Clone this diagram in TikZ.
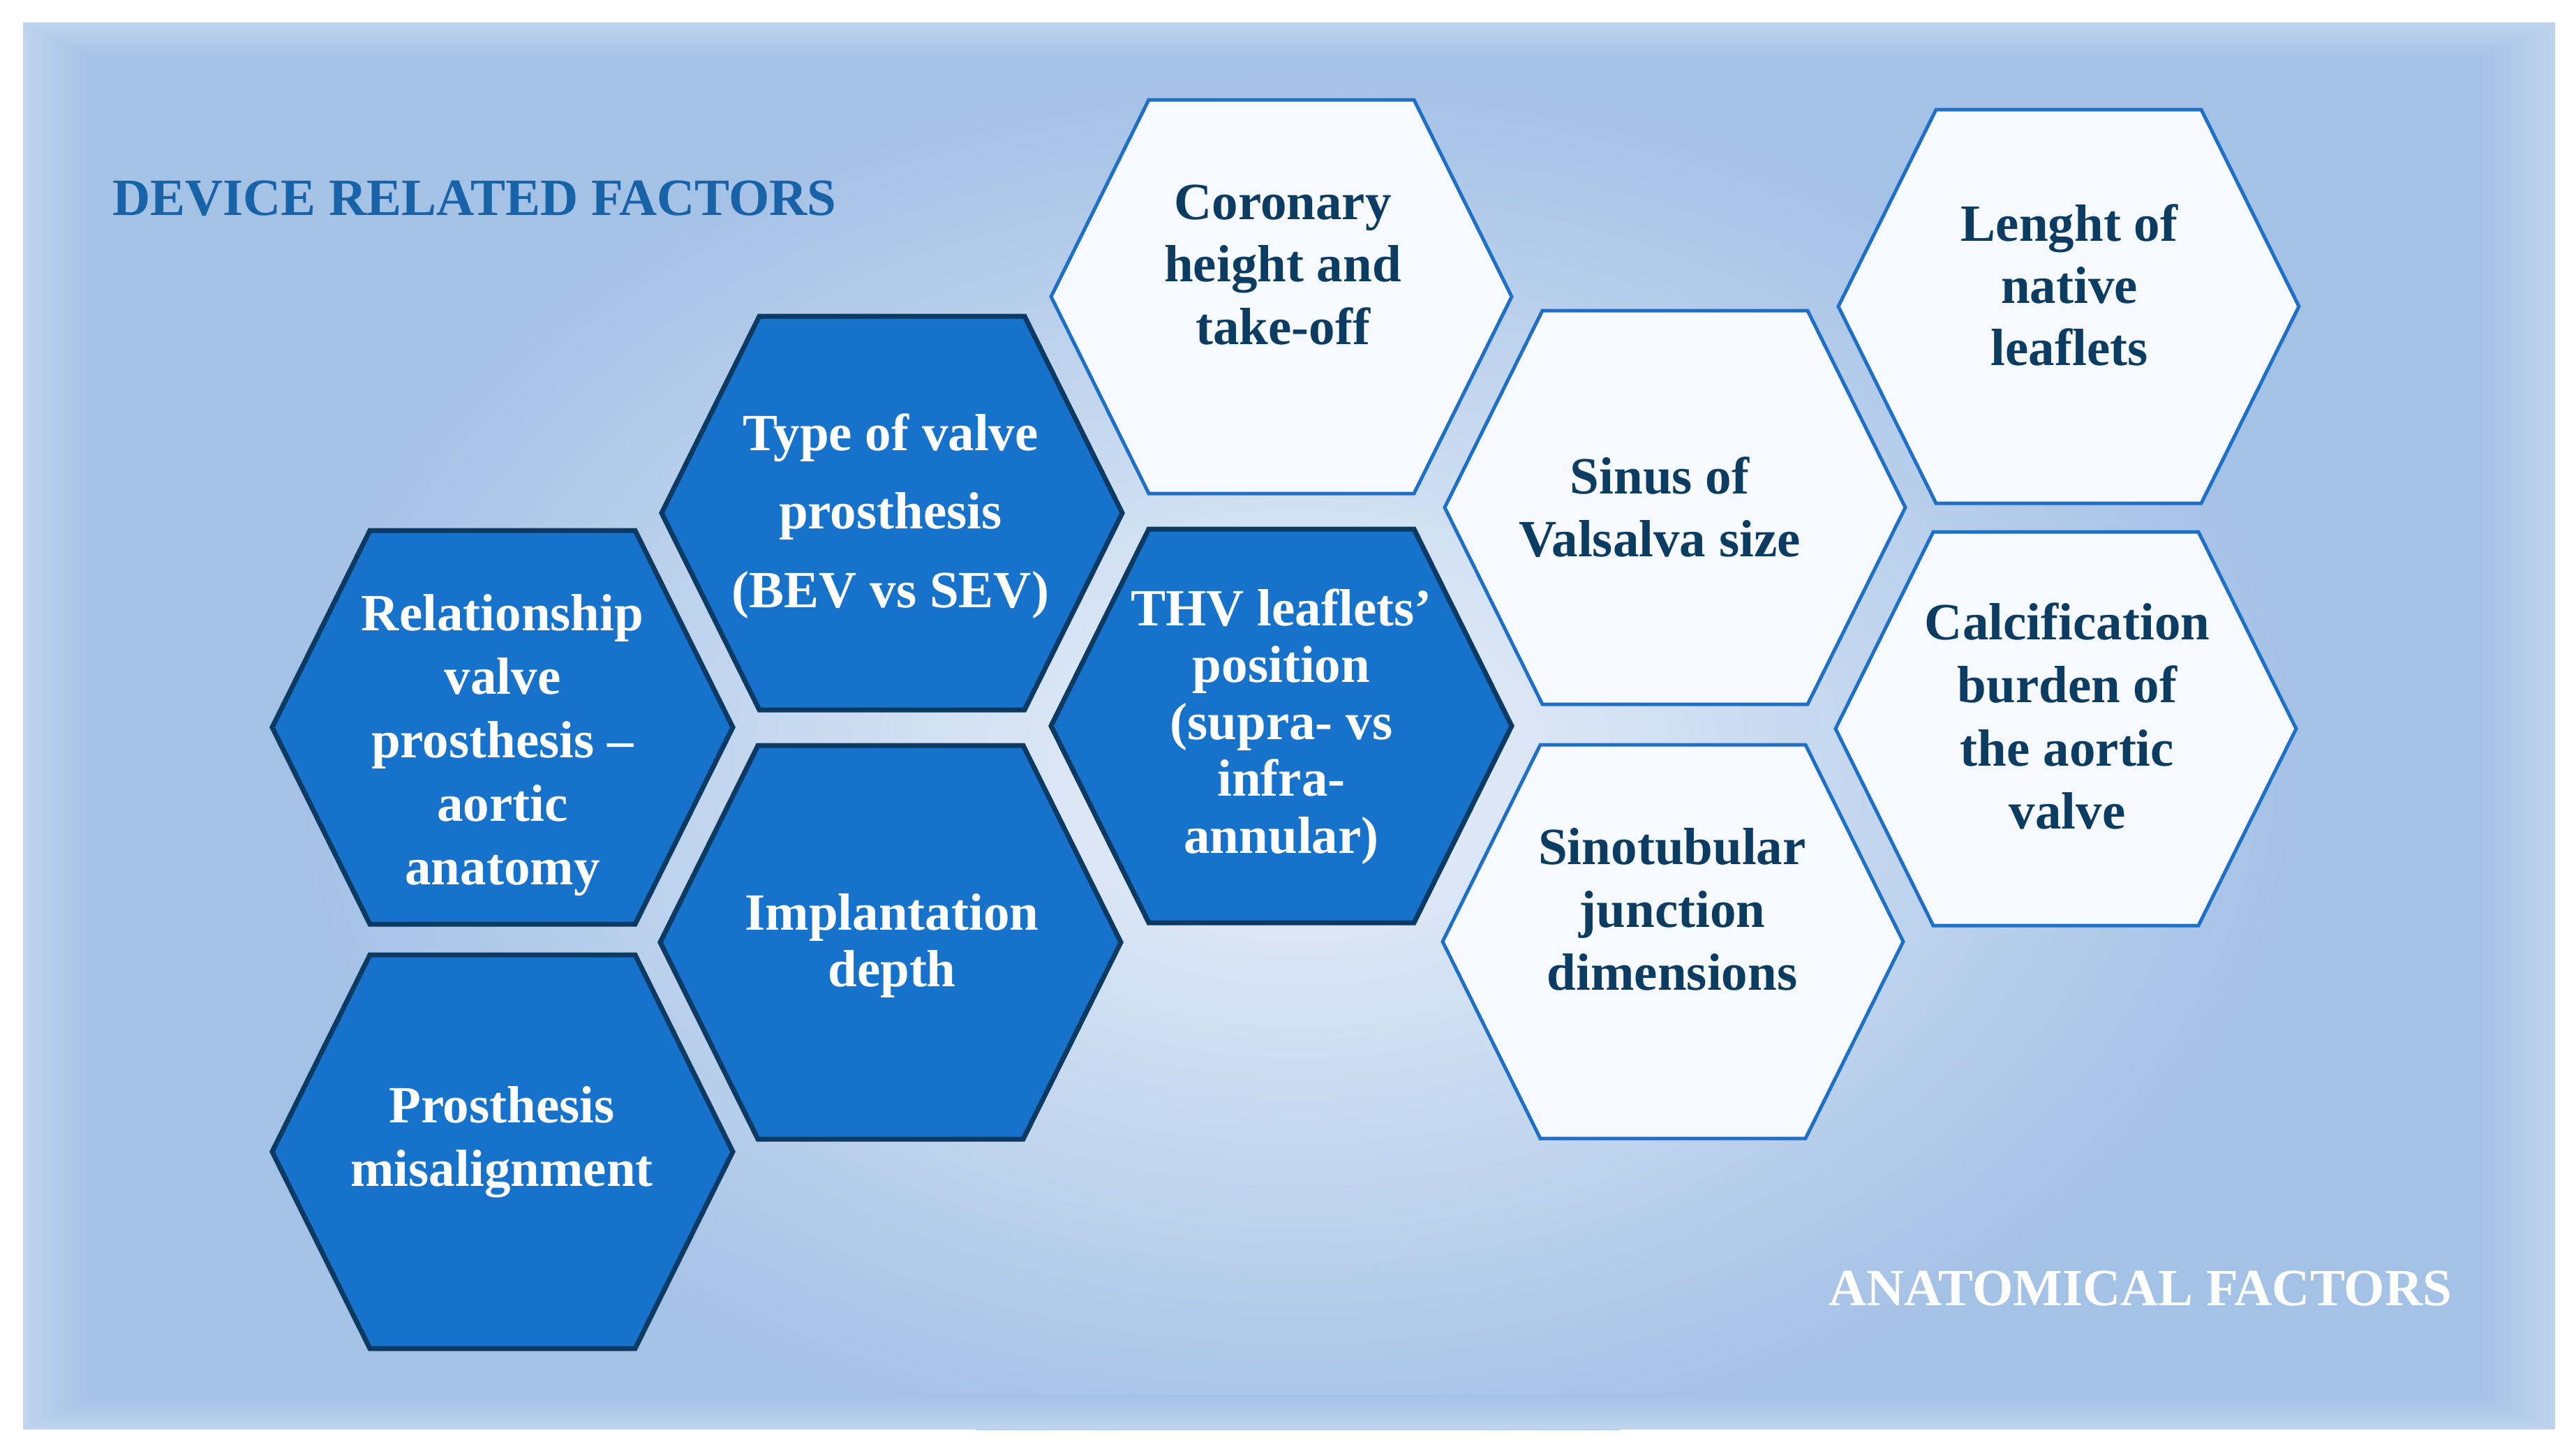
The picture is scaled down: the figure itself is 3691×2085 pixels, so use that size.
\documentclass[tikz,border=0pt]{standalone}
\usepackage{fontspec}
\setmainfont{Liberation Serif}
\definecolor{basec}{RGB}{164,193,230}
\definecolor{edgec}{RGB}{192,212,238}
\definecolor{glowA}{RGB}{232,240,249}
\definecolor{glowB}{RGB}{218,230,245}
\definecolor{hexblue}{RGB}{23,114,203}
\definecolor{hexborder}{RGB}{12,58,98}
\definecolor{hexwhite}{RGB}{246,250,254}
\definecolor{lightborder}{RGB}{30,111,200}
\definecolor{navytext}{RGB}{13,60,98}
\definecolor{devblue}{RGB}{24,99,168}
\pgfdeclareradialshading{glow}{\pgfpointorigin}{color(0bp)=(glowA); color(6bp)=(glowB); color(25bp)=(basec); color(50bp)=(basec)}
\newcommand\hexlines[2]{{\fontsize{15pt}{#1}\selectfont\begin{tabular}[t]{@{}c@{}}#2\end{tabular}}}
\begin{document}
\begin{tikzpicture}[x=0.2pt,y=-0.2pt,
  darkhex/.style={fill=hexblue,draw=hexborder,line width=1.4pt,line join=miter},
  lighthex/.style={fill=hexwhite,draw=lightborder,line width=1pt,line join=miter},
  hexlabel/.style={anchor=base,inner sep=0pt,font=\bfseries},
  titletext/.style={inner sep=0pt,font=\bfseries\fontsize{15pt}{18pt}\selectfont}]
\useasboundingbox (0,0) rectangle (3691,2085);
\fill[white] (0,0) rectangle (3691,2085);
% panel
\fill[basec] (33,32) rectangle (3661,2048);
\begin{scope}
  \clip (33,32) rectangle (3661,2048);
  \shade[shading=glow] (1860,1100) ellipse [x radius=1450, y radius=1000];
\end{scope}
% soft edges
\shade[left color=edgec,right color=basec] (33,32) -- (133,82) -- (133,1998) -- (33,2048) -- cycle;
\shade[left color=basec,right color=edgec] (3661,32) -- (3661,2048) -- (3551,1998) -- (3551,82) -- cycle;
\shade[top color=edgec,bottom color=basec] (33,32) -- (3661,32) -- (3551,82) -- (133,82) -- cycle;
\shade[top color=basec,bottom color=edgec] (33,2048) -- (133,1998) -- (3551,1998) -- (3661,2048) -- cycle;

% dark hexagons
\draw[darkhex,shift={(720,1042)}] (-330,0) -- (-190,-282) -- (190,-282) -- (330,0) -- (190,282) -- (-190,282) -- cycle;
\draw[darkhex,shift={(720,1650)}] (-330,0) -- (-190,-282) -- (190,-282) -- (330,0) -- (190,282) -- (-190,282) -- cycle;
\draw[darkhex,shift={(1278,735)}] (-330,0) -- (-190,-282) -- (190,-282) -- (330,0) -- (190,282) -- (-190,282) -- cycle;
\draw[darkhex,shift={(1276,1350)}] (-330,0) -- (-190,-282) -- (190,-282) -- (330,0) -- (190,282) -- (-190,282) -- cycle;
\draw[darkhex,shift={(1836,1040)}] (-330,0) -- (-190,-282) -- (190,-282) -- (330,0) -- (190,282) -- (-190,282) -- cycle;
% light hexagons
\draw[lighthex,shift={(1836,425)}] (-330,0) -- (-190,-282) -- (190,-282) -- (330,0) -- (190,282) -- (-190,282) -- cycle;
\draw[lighthex,shift={(2400,727)}] (-330,0) -- (-190,-282) -- (190,-282) -- (330,0) -- (190,282) -- (-190,282) -- cycle;
\draw[lighthex,shift={(2397,1349)}] (-330,0) -- (-190,-282) -- (190,-282) -- (330,0) -- (190,282) -- (-190,282) -- cycle;
\draw[lighthex,shift={(2964,439)}] (-330,0) -- (-190,-282) -- (190,-282) -- (330,0) -- (190,282) -- (-190,282) -- cycle;
\draw[lighthex,shift={(2960,1044)}] (-330,0) -- (-190,-282) -- (190,-282) -- (330,0) -- (190,282) -- (-190,282) -- cycle;

% labels
\node[hexlabel,text=white] (rel) at (720,903) {\hexlines{18.24pt}{Relationship\\valve\\prosthesis –\\aortic\\anatomy}};
\node[hexlabel,text=white] (mis) at (719,1608) {\hexlines{18.2pt}{Prosthesis\\misalignment}};
\node[hexlabel,text=white] (type) at (1276,645) {\hexlines{22.5pt}{Type of valve\\prosthesis\\(BEV vs SEV)}};
\node[hexlabel,text=white] (impl) at (1278,1332) {\hexlines{16.2pt}{Implantation\\depth}};
\node[hexlabel,text=white] (thv) at (1836,896) {\hexlines{16.3pt}{THV leaflets’\\position\\(supra- vs\\infra-\\annular)}};
\node[hexlabel,text=navytext] (cor) at (1838,314) {\hexlines{17.9pt}{Coronary\\height and\\take-off}};
\node[hexlabel,text=navytext] (sin) at (2378,707) {\hexlines{18pt}{Sinus of\\Valsalva size}};
\node[hexlabel,text=navytext] (stj) at (2396,1238) {\hexlines{18pt}{Sinotubular\\junction\\dimensions}};
\node[hexlabel,text=navytext] (len) at (2965,345) {\hexlines{17.8pt}{Lenght of\\native\\leaflets}};
\node[hexlabel,text=navytext] (cal) at (2962,916) {\hexlines{18.1pt}{Calcification\\burden of\\the aortic\\valve}};

% titles
\node[titletext,anchor=base west,text=devblue] (dev) at (160,308) {DEVICE RELATED FACTORS};
\node[titletext,anchor=base east,text=white] (ana) at (3514,1870) {ANATOMICAL FACTORS};
\end{tikzpicture}
\end{document}
